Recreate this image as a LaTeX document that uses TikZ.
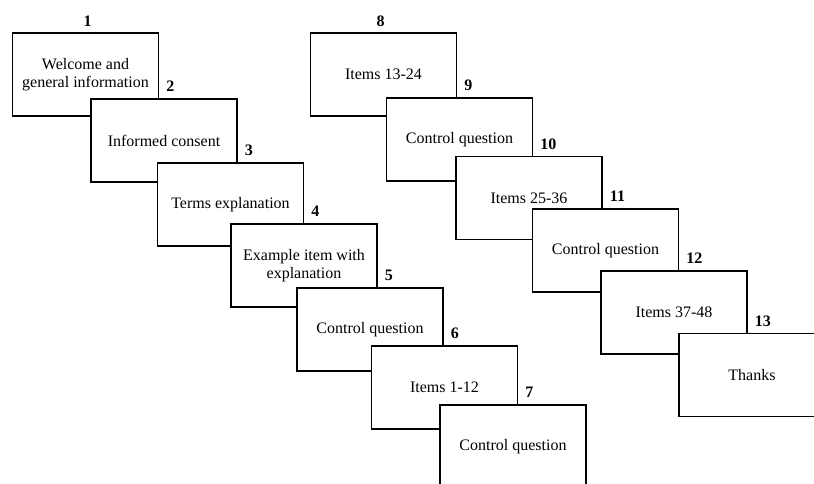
\documentclass[tikz,border=0pt]{standalone}
\usepackage{fontspec}
\setmainfont{Liberation Serif}
\begin{document}
\begin{tikzpicture}[x=1pt,y=-1pt,
	screen/.style={draw, fill=white, line width=1.4pt, minimum width=146pt, minimum height=83pt, align=center, font=\fontsize{16}{18.5}\selectfont},
	num/.style={font=\fontsize{16}{18}\selectfont\bfseries, inner sep=0pt}]
	
	\clip (0,0) rectangle (814,483);
	\useasboundingbox (0,0) rectangle (814,483);
	
	% first column of screens
	\node [screen] (s1) at (85.5,74.5) {Welcome and\\general information};
	\node [screen] (s2) at (164,140.5) {Informed consent};
	\node [screen] (s3) at (230.5,204.5) {Terms explanation};
	\node [screen] (s4) at (304,265.5) {Example item with\\explanation};
	\node [screen] (s5) at (370,329.5) {Control question};
	\node [screen] (s6) at (444.5,387.5) {Items 1-12};
	\node [screen] (s7) at (513,446.5) {Control question};
	
	% second column of screens
	\node [screen] (s8) at (383.5,74.5) {Items 13-24};
	\node [screen] (s9) at (459.5,139.5) {Control question};
	\node [screen] (s10) at (529,198) {Items 25-36};
	\node [screen] (s11) at (605.5,250.5) {Control question};
	\node [screen] (s12) at (674,312.5) {Items 37-48};
	\node [screen] (s13) at (752,375) {Thanks};
	
	% numbers
	\node [num, anchor=base, xshift=2pt, yshift=6pt] (n1) at (s1.north) {1};
	\node [num, anchor=base west, xshift=7pt, yshift=6.5pt] (n2) at (s1.east |- s2.north) {2};
	\node [num, anchor=base west, xshift=7pt, yshift=6.5pt] (n3) at (s2.east |- s3.north) {3};
	\node [num, anchor=base west, xshift=7pt, yshift=6.5pt] (n4) at (s3.east |- s4.north) {4};
	\node [num, anchor=base west, xshift=7pt, yshift=6.5pt] (n5) at (s4.east |- s5.north) {5};
	\node [num, anchor=base west, xshift=7pt, yshift=6.5pt] (n6) at (s5.east |- s6.north) {6};
	\node [num, anchor=base west, xshift=7pt, yshift=6.5pt] (n7) at (s6.east |- s7.north) {7};
	
	\node [num, anchor=base, xshift=-3pt, yshift=6pt] (n8) at (s8.north) {8};
	\node [num, anchor=base west, xshift=7pt, yshift=6.5pt] (n9) at (s8.east |- s9.north) {9};
	\node [num, anchor=base west, xshift=7pt, yshift=6.5pt] (n10) at (s9.east |- s10.north) {10};
	\node [num, anchor=base west, xshift=7pt, yshift=6.5pt] (n11) at (s10.east |- s11.north) {11};
	\node [num, anchor=base west, xshift=7pt, yshift=6.5pt] (n12) at (s11.east |- s12.north) {12};
	\node [num, anchor=base west, xshift=7pt, yshift=6.5pt] (n13) at (s12.east |- s13.north) {13};
	
\end{tikzpicture}
\end{document}
